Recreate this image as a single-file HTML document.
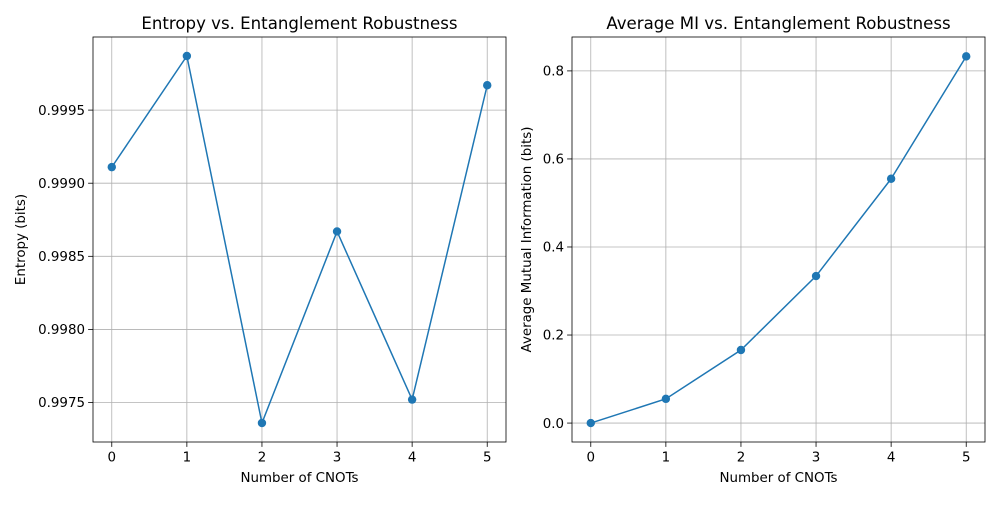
<!DOCTYPE html>
<html><head><meta charset="utf-8"><style>
body{margin:0;background:#fff}
svg{font-family:"DejaVu Sans","Liberation Sans",sans-serif}
</style></head><body>
<svg id="chart" width="1000" height="500" viewBox="0 0 1000 500" xmlns="http://www.w3.org/2000/svg"></svg>
<script>
const categories=[0,1,2,3,4,5];
const entropyValues=[0.99911,0.99987,0.99736,0.99867,0.99752,0.99967];
const miValues=[0.0,0.055,0.166,0.334,0.555,0.833];
const entropyTicks=[0.9975,0.9980,0.9985,0.9990,0.9995];
const entropyTickLabels=["0.9975","0.9980","0.9985","0.9990","0.9995"];
const miTicks=[0.0,0.2,0.4,0.6,0.8];
const miTickLabels=["0.0","0.2","0.4","0.6","0.8"];

const svg=document.getElementById('chart');
const NS='http://www.w3.org/2000/svg';
function mk(tag,attrs,parent,text){const e=document.createElementNS(NS,tag);for(const k in attrs)e.setAttribute(k,attrs[k]);if(text!==undefined)e.textContent=text;parent.appendChild(e);return e;}

function panel(prefix,L,R,T,B,xmin,xmax,ymin,ymax,vals,yt,ytl,title,ylabel){
  const g=mk('g',{},svg);
  
  
  const xs=v=>L+(v-xmin)/(xmax-xmin)*(R-L);
  const ys=v=>B-(v-ymin)/(ymax-ymin)*(B-T);
  categories.forEach(c=>{
    const x=xs(c);
    const gl=mk('line',{x1:x,x2:x,y1:T,y2:B,stroke:'#b0b0b0','stroke-width':0.8},g);
    
    
    mk('line',{x1:x,x2:x,y1:B,y2:B+4.9,stroke:'#000','stroke-width':0.8},g);
    const t=mk('text',{x:x,y:B+19.5,'font-size':13.4,'text-anchor':'middle'},g,String(c));
    
    
  });
  yt.forEach((v,i)=>{
    const y=ys(v);
    const gl=mk('line',{x1:L,x2:R,y1:y,y2:y,stroke:'#b0b0b0','stroke-width':0.8},g);
    
    
    mk('line',{x1:L-4.9,x2:L,y1:y,y2:y,stroke:'#000','stroke-width':0.8},g);
    const t=mk('text',{x:L-8,y:y+4.7,'font-size':13.4,'text-anchor':'end'},g,ytl[i]);
    
    
  });
  const pts=categories.map((c,i)=>xs(c)+','+ys(vals[i])).join(' ');
  const pl=mk('polyline',{points:pts,fill:'none',stroke:'#1f77b4','stroke-width':1.5},g);
  
  
  categories.forEach((c,i)=>{
    const p=mk('circle',{cx:xs(c),cy:ys(vals[i]),r:4.2,fill:'#1f77b4'},g);
    
    
  });
  const fr=mk('rect',{x:L,y:T,width:R-L,height:B-T,fill:'none',stroke:'#000','stroke-width':0.8},g);
  
  
  const ti=mk('text',{x:(L+R)/2,y:T-8,'font-size':16.6,'text-anchor':'middle'},g,title);
  
  
  const xl=mk('text',{x:(L+R)/2,y:B+40,'font-size':13.4,'text-anchor':'middle'},g,'Number of CNOTs');
  
  
  const yx=prefix==='entropy'?25:531;
  const yl=mk('text',{x:yx,y:(T+B)/2,'font-size':13.4,'text-anchor':'middle',transform:`rotate(-90 ${yx} ${(T+B)/2})`},g,ylabel);
  
  
}
panel('entropy',93,506,37,442,-0.25,5.25,0.99723,1.0,entropyValues,entropyTicks,entropyTickLabels,'Entropy vs. Entanglement Robustness','Entropy (bits)');
panel('mi',572,985,37,442,-0.25,5.25,-0.043,0.877,miValues,miTicks,miTickLabels,'Average MI vs. Entanglement Robustness','Average Mutual Information (bits)');
</script>
</body></html>
